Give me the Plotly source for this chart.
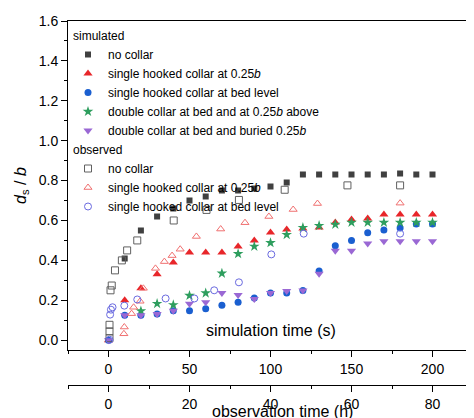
import plotly.graph_objects as go

# simulated, time in s
t_sim = [0, 10, 20, 30, 40, 50, 60, 70, 80, 90, 100, 110, 120, 130, 140, 150, 160, 170, 180, 190, 200]
sim_nocollar = [None, 0.41, 0.55, 0.62, 0.66, 0.70, 0.72, 0.75, 0.75, 0.76, 0.77, 0.79, 0.83, 0.83, 0.83, 0.83, 0.83, 0.83, 0.835, 0.83, 0.83]
sim_hook025 = [0.0, 0.20, 0.26, 0.33, 0.39, 0.44, 0.44, 0.44, 0.47, 0.50, 0.54, 0.555, 0.56, 0.565, 0.59, 0.605, 0.61, 0.63, 0.63, 0.63, 0.63]
sim_hookbed = [0.0, 0.125, 0.125, 0.131, 0.148, 0.148, 0.158, 0.175, 0.19, 0.212, 0.236, 0.236, 0.249, 0.347, 0.473, 0.50, 0.539, 0.552, 0.562, 0.582, 0.582]
sim_double025 = [None, None, 0.146, 0.183, 0.177, 0.224, 0.236, 0.335, 0.433, 0.47, 0.488, 0.529, 0.564, 0.574, 0.58, 0.59, 0.59, 0.59, 0.59, 0.59, 0.59]
sim_doublebur = [0.0, 0.125, 0.125, 0.131, 0.148, 0.182, 0.19, 0.236, 0.227, 0.207, 0.236, 0.246, 0.249, 0.333, 0.448, 0.448, 0.485, 0.496, 0.496, 0.496, 0.496]

# observed, time in h
t_obs_nc = [0.25, 0.25, 0.25, 0.5, 0.8, 1.6, 3.3, 4.6, 7.1, 16.1, 24.2, 32.2, 43.5, 59, 72]
obs_nocollar = [0.01, 0.044, 0.077, 0.25, 0.274, 0.35, 0.40, 0.45, 0.50, 0.60, 0.653, 0.703, 0.754, 0.776, 0.776]
t_obs_h = [3.8, 3.9, 5.7, 6.2, 7.8, 8.6, 11.6, 13.8, 15.7, 17.7, 21.7, 27.7, 33.7, 39.6, 45.6, 51.6, 72]
obs_hook025 = [0.032, 0.066, 0.133, 0.165, 0.195, 0.26, 0.36, 0.394, 0.424, 0.456, 0.52, 0.557, 0.589, 0.62, 0.655, 0.685, 0.687]
t_obs_b = [0.25, 0.4, 0.6, 1.0, 3.9, 7.1, 14.1, 21.2, 26.1, 32.2, 40.2, 48.2, 72]
obs_hookbed = [0.002, 0.128, 0.153, 0.165, 0.173, 0.204, 0.209, 0.209, 0.25, 0.29, 0.43, 0.534, 0.534]

fig = go.Figure()

def sim(y, name, sym, col, size=7):
    fig.add_trace(go.Scatter(x=t_sim, y=y, mode="markers", name=name,
                             legendgroup="sim", legendgrouptitle_text="simulated",
                             marker=dict(symbol=sym, color=col, size=size)))

def obs(x, y, name, sym, col):
    fig.add_trace(go.Scatter(x=x, y=y, mode="markers", name=name, xaxis="x2",
                             legendgroup="obs", legendgrouptitle_text="observed",
                             marker=dict(symbol=sym, size=7, color="rgba(0,0,0,0)",
                                         line=dict(color=col, width=1))))

sim(sim_nocollar, "no collar", "square", "#404040", 6)
sim(sim_hook025, "single hooked collar at 0.25<i>b</i>", "triangle-up", "#e8262a", 8)
sim(sim_hookbed, "single hooked collar at bed level", "circle", "#1a5fd0")
sim(sim_double025, "double collar at bed and at 0.25<i>b</i> above", "star", "#2e9e5e", 8)
sim(sim_doublebur, "double collar at bed and buried 0.25<i>b</i>", "triangle-down", "#9a68d4", 8)
obs(t_obs_nc, obs_nocollar, "no collar", "square", "#606060")
obs(t_obs_h, obs_hook025, "single hooked collar at 0.25<i>b</i>", "triangle-up", "#f07070")
obs(t_obs_b, obs_hookbed, "single hooked collar at bed level", "circle", "#6a6ae0")

axfont = dict(family="Arial", size=14, color="black")
fig.update_layout(
    width=474, height=418,
    margin=dict(l=60, r=9, t=13, b=36, autoexpand=False),
    plot_bgcolor="white", paper_bgcolor="white",
    font=dict(family="Arial", size=12, color="black"),
    legend=dict(x=0, y=1, xanchor="left", yanchor="top", bgcolor="rgba(0,0,0,0)",
                tracegroupgap=0, itemsizing="trace", itemwidth=30, font=dict(size=12),
                grouptitlefont=dict(size=12)),
    xaxis=dict(range=[-25, 225], domain=[0, 1], tickvals=[0, 50, 100, 150, 200],
               ticks="outside", ticklen=6, tickcolor="black", showline=True, linecolor="black",
               mirror=True, showgrid=False, zeroline=False, tickfont=axfont, automargin=False,
               minor=dict(dtick=25, ticks="outside", ticklen=3, tickcolor="black")),
    xaxis2=dict(range=[-10, 90], overlaying="x", anchor="free", position=0.0136, side="bottom",
                tickvals=[0, 20, 40, 60, 80], ticks="outside", ticklen=6, tickcolor="black",
                showline=True, linecolor="black", showgrid=False, zeroline=False, tickfont=axfont,
                automargin=False,
                minor=dict(dtick=10, ticks="outside", ticklen=3, tickcolor="black")),
    yaxis=dict(range=[-0.05, 1.6], domain=[0.108, 1], dtick=0.2, tickformat=".1f",
               ticks="outside", ticklen=6, tickcolor="black", showline=True, linecolor="black",
               mirror=True, showgrid=False, zeroline=False, tickfont=axfont, automargin=False,
               minor=dict(dtick=0.1, ticks="outside", ticklen=3, tickcolor="black"),
               title=dict(text="<i>d</i><sub>s</sub> / <i>b</i>", font=dict(size=16), standoff=8)),
    annotations=[
        dict(text="simulation time (s)", x=100, y=0.05, xref="x", yref="y", showarrow=False,
             font=dict(size=16)),
        dict(text="observation time (h)", x=0.53, y=-0.058, xref="paper", yref="paper",
             showarrow=False, yanchor="middle", font=dict(size=16)),
    ],
)

fig.write_html("out.html")
